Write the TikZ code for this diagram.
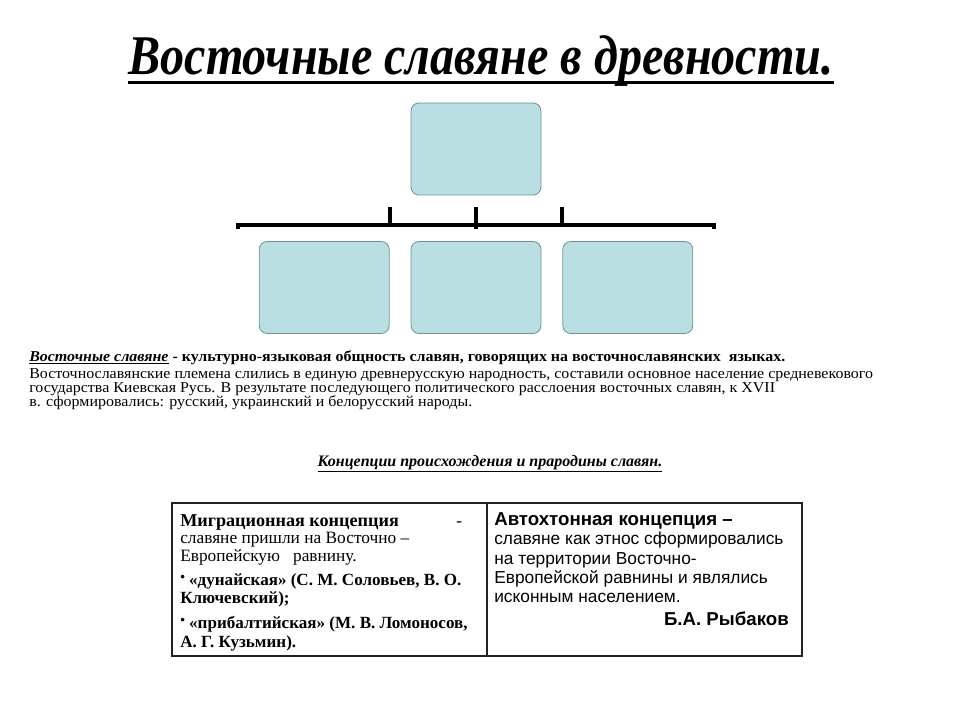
\documentclass[tikz,border=0pt]{standalone}
\usepackage{fontspec}
\setmainfont{Liberation Serif}
\newfontfamily\arialfont{Liberation Sans}
\newfontfamily\titlefont{Liberation Serif}[FakeStretch=0.86]
\newfontfamily\parafont{Liberation Serif}[FakeStretch=1.06]
\usetikzlibrary{positioning, calc}
\definecolor{boxteal}{HTML}{BADFE2}
\definecolor{boxrim}{HTML}{6F9397}
\definecolor{rulegray}{HTML}{222222}
\tikzset{
  orgbox/.style    = {draw=boxrim, fill=boxteal, rounded corners=6pt,
                      line width=0.6pt, minimum width=97.5pt,
                      minimum height=69pt, inner sep=0pt},
  orgbar/.style    = {draw=black, line width=3pt},
  titletext/.style = {font=\titlefont\fontsize{42}{42}\selectfont\bfseries\itshape,
                      inner sep=0pt, anchor=base},
  paratext/.style  = {font=\parafont\fontsize{11.3}{11.3}\selectfont, inner sep=0pt,
                      anchor=base west},
  subtext/.style   = {font=\fontsize{12}{12}\selectfont\bfseries\itshape,
                      inner sep=0pt, anchor=base},
  cell/.style      = {draw=rulegray, line width=1.4pt, inner sep=0pt,
                      anchor=north west},
  celltext/.style  = {font=\fontsize{13}{13}\selectfont, inner sep=0pt,
                      anchor=base west},
  sanstext/.style  = {font=\arialfont\fontsize{13}{13}\selectfont,
                      inner sep=0pt, anchor=base west},
}
\newcommand{\smallbul}{\raisebox{2.5pt}{\fontsize{10}{10}\selectfont\textbullet}}

\begin{document}
\begin{tikzpicture}[x=0.75pt, y=-0.75pt]
  \useasboundingbox (0,0) rectangle (960,720);

  % title
  \node[titletext] (title) at (481,75) {Восточные славяне в древности.};
  \draw[line width=2.2pt] ([yshift=-5.5pt]title.base west)
    -- ([yshift=-5.5pt]title.base east);

  % empty scheme
  \node[orgbox] (topbox) at (476,149) {};
  \node[orgbox] (mbox) at (476,287.5) {};
  \node[orgbox, left=15.75pt of mbox]  (lbox) {};
  \node[orgbox, right=15.75pt of mbox] (rbox) {};
  \coordinate (barL) at (238,225);
  \coordinate (barR) at (714,225);
  \draw[orgbar] ($(barL)+(0,4)$) -- (barL) -- (barR) -- ++(0,4);
  \foreach \b in {lbox.north east, rbox.north west}
    {\draw[orgbar] (\b |- barL) -- ++(0,-18);}
  \draw[orgbar] ($(mbox.north |- barL)+(0,4)$) -- ++(0,-22);

  % definition
  \node[paratext, font=\parafont\fontsize{11.3}{11.3}\selectfont\bfseries] (def) at (29,361)
    {\underline{\textit{Восточные славяне}} - культурно-языковая общность славян, говорящих на восточнославянских\ \ языках.};
  \foreach \y/\t [count=\i] in {
      378/{Восточнославянские племена слились в единую древнерусскую народность, составили основное население средневекового},
      392/{государства Киевская Русь. В результате последующего политического расслоения восточных славян, к XVII},
      406/{в. сформировались: русский, украинский и белорусский народы.}}
    {\node[paratext] (para\i) at (29,\y) {\t};}

  \node[subtext] (sub) at (490,466)
    {\underline{Концепции происхождения и прародины славян.}};

  % table of concepts
  \node[cell, minimum width=236.25pt, minimum height=114.75pt] (mig) at (171,502) {};
  \node[cell, minimum width=236.25pt, minimum height=114.75pt] (auto) at (486,502) {};

  \node[celltext, font=\fontsize{13.6}{13.6}\selectfont\bfseries] (mig1) at (180,526)
    {Миграционная концепция};
  \node[celltext] (migdash) at (456,526) {-};
  \foreach \y/\t [count=\i from 2] in {
      543/{славяне пришли на Восточно –},
      561/{Европейскую\ \ \ равнину.}}
    {\node[celltext] (mig\i) at (180,\y) {\t};}
  \foreach \y/\t [count=\i from 4] in {
      585/{\smallbul\ «дунайская» (С. М. Соловьев, В. О.},
      603/{Ключевский);},
      628/{\smallbul\ «прибалтийская» (М. В. Ломоносов,},
      647/{А. Г. Кузьмин).}}
    {\node[celltext, font=\fontsize{12.8}{12.8}\selectfont\bfseries] (mig\i) at (180,\y) {\t};}

  \node[sanstext, font=\arialfont\fontsize{14}{14}\selectfont\bfseries] (auto1) at (494,525)
    {Автохтонная концепция –};
  \foreach \y/\t [count=\i from 2] in {
      544/{славяне как этнос сформировались},
      564/{на территории Восточно-},
      583/{Европейской равнины и являлись},
      602/{исконным населением.}}
    {\node[sanstext] (auto\i) at (494,\y) {\t};}
  \node[sanstext, anchor=base east, font=\arialfont\fontsize{14}{14}\selectfont\bfseries]
    (author) at (789,625) {Б.А. Рыбаков};
\end{tikzpicture}
\end{document}
